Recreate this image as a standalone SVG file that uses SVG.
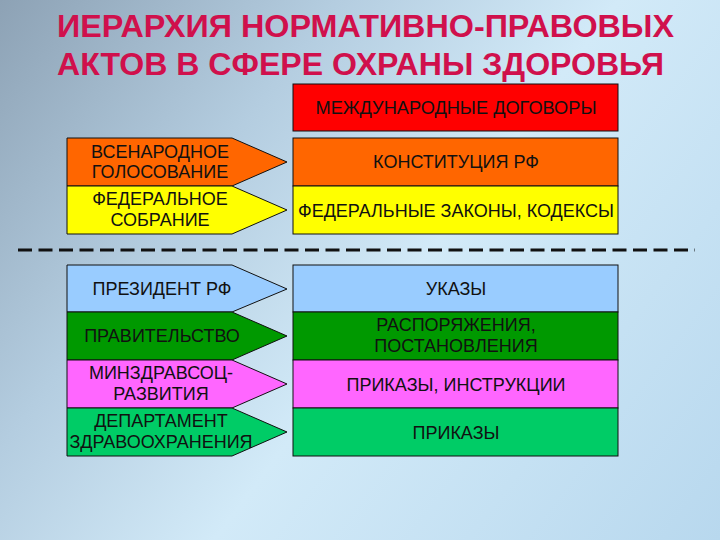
<svg xmlns="http://www.w3.org/2000/svg" width="720" height="540" viewBox="0 0 720 540">
<defs>
<linearGradient id="bg" x1="0" y1="0" x2="720" y2="540" gradientUnits="userSpaceOnUse">
<stop offset="0" stop-color="#8da2b5"/>
<stop offset="0.3" stop-color="#b4cde0"/>
<stop offset="0.55" stop-color="#d2eaf8"/>
<stop offset="1" stop-color="#b8d8ee"/>
</linearGradient>
<style>
.t{font-family:"Liberation Sans",Arial,sans-serif;font-weight:bold;font-size:31px;fill:#d0104c}
.l{font-family:"Liberation Sans",Arial,sans-serif;font-size:18px;fill:#111;text-anchor:middle}
.b{stroke:#111;stroke-width:1}
</style>
</defs>
<rect width="720" height="540" fill="url(#bg)"/>
<g id="title">
<text class="t" x="57" y="37" textLength="617" lengthAdjust="spacingAndGlyphs">ИЕРАРХИЯ НОРМАТИВНО-ПРАВОВЫХ</text>
<text class="t" x="57" y="75" textLength="607" lengthAdjust="spacingAndGlyphs">АКТОВ В СФЕРЕ ОХРАНЫ ЗДОРОВЬЯ</text>
</g>
<g id="connectors">
<line x1="18" y1="250" x2="695" y2="250" stroke="#111" stroke-width="3" stroke-dasharray="14 6.5"/>
</g>
<g id="mezhdunarodnye">
<rect class="b" x="293" y="84" width="325" height="47" fill="#ff0000"/>
<text class="l" x="456" y="114" textLength="281" lengthAdjust="spacingAndGlyphs">МЕЖДУНАРОДНЫЕ ДОГОВОРЫ</text>
</g>
<g id="konstitutsiya">
<rect class="b" x="293" y="138" width="325" height="48" fill="#ff6600"/>
<text class="l" x="456" y="168">КОНСТИТУЦИЯ РФ</text>
</g>
<g id="zakony">
<rect class="b" x="293" y="186" width="325" height="48" fill="#ffff00"/>
<text class="l" x="456" y="217">ФЕДЕРАЛЬНЫЕ ЗАКОНЫ, КОДЕКСЫ</text>
</g>
<g id="vsenarodnoe">
<path class="b" d="M67,138 H232 L287,162 L232,186 H67 Z" fill="#ff6600"/>
<text class="l" x="160" y="158">ВСЕНАРОДНОЕ</text>
<text class="l" x="160" y="178">ГОЛОСОВАНИЕ</text>
</g>
<g id="federalnoe">
<path class="b" d="M67,186 H232 L287,210 L232,234 H67 Z" fill="#ffff00"/>
<text class="l" x="160" y="205">ФЕДЕРАЛЬНОЕ</text>
<text class="l" x="160" y="226">СОБРАНИЕ</text>
</g>
<g id="ukazy">
<rect class="b" x="293" y="265" width="325" height="47" fill="#99ccff"/>
<text class="l" x="456" y="295">УКАЗЫ</text>
</g>
<g id="rasporyazheniya">
<rect class="b" x="293" y="312" width="325" height="48" fill="#009900"/>
<text class="l" x="456" y="331" fill="#222">РАСПОРЯЖЕНИЯ,</text>
<text class="l" x="456" y="352" fill="#222">ПОСТАНОВЛЕНИЯ</text>
</g>
<g id="prikazy-instruktsii">
<rect class="b" x="293" y="360" width="325" height="48" fill="#ff66ff"/>
<text class="l" x="456" y="391">ПРИКАЗЫ, ИНСТРУКЦИИ</text>
</g>
<g id="prikazy">
<rect class="b" x="293" y="408" width="325" height="48" fill="#00cc66"/>
<text class="l" x="456" y="439">ПРИКАЗЫ</text>
</g>
<g id="prezident">
<path class="b" d="M67,265 H232 L287,289 L232,312 H67 Z" fill="#99ccff"/>
<text class="l" x="162" y="295">ПРЕЗИДЕНТ РФ</text>
</g>
<g id="pravitelstvo">
<path class="b" d="M67,312 H232 L287,336 L232,360 H67 Z" fill="#009900"/>
<text class="l" x="162" y="342" fill="#222">ПРАВИТЕЛЬСТВО</text>
</g>
<g id="minzdrav">
<path class="b" d="M67,360 H232 L287,384 L232,408 H67 Z" fill="#ff66ff"/>
<text class="l" x="161" y="379">МИНЗДРАВСОЦ-</text>
<text class="l" x="161" y="400">РАЗВИТИЯ</text>
</g>
<g id="departament">
<path class="b" d="M67,408 H232 L287,432 L232,456 H67 Z" fill="#00cc66"/>
<text class="l" x="161" y="427">ДЕПАРТАМЕНТ</text>
<text class="l" x="161" y="448">ЗДРАВООХРАНЕНИЯ</text>
</g>
</svg>
